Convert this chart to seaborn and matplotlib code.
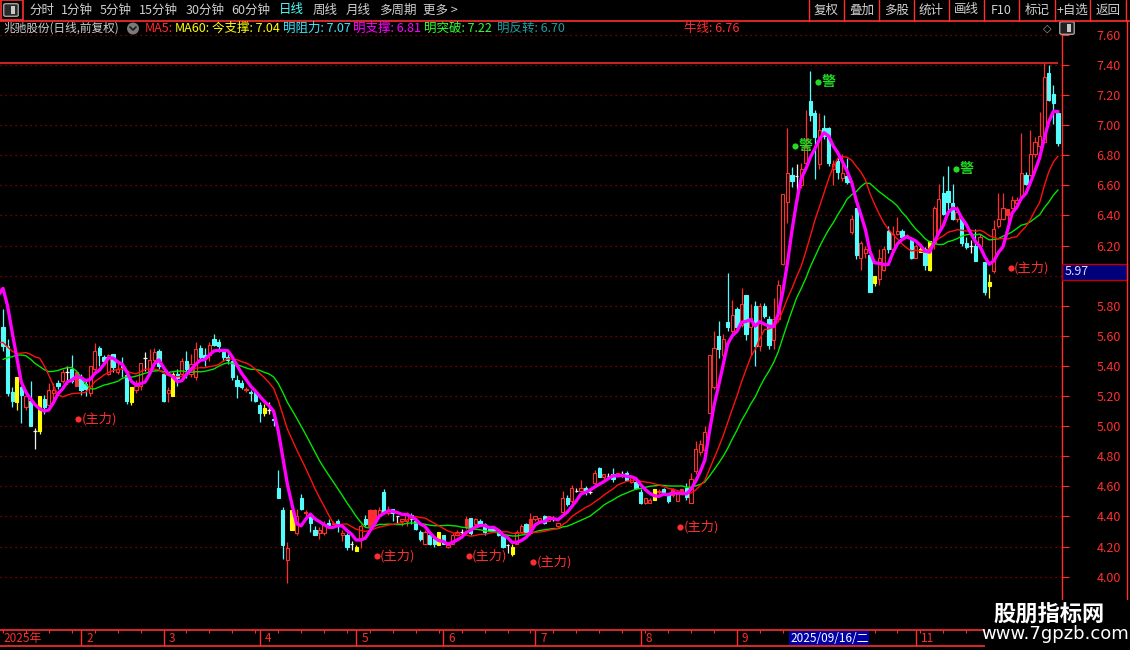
import numpy as np
import pandas as pd
import matplotlib
matplotlib.use('Agg')
from matplotlib import pyplot as plt
from matplotlib.patches import Rectangle, FancyBboxPatch, Ellipse
import matplotlib.transforms as mtransforms
import seaborn as sns

# closes of the last days of 2024, only used to seed the averages (not drawn)
warmup_close = [5.00, 5.05, 5.10, 5.20, 5.30, 5.45, 5.55, 5.60, 5.55, 5.50,
                5.20, 5.15, 5.15, 5.20, 5.30, 5.80, 6.05, 6.15, 6.05]

opens = [
    5.66, 5.53, 5.23, 5.16, 5.26, 5.13, 5.17, 4.97, 4.97, 5.18,
    5.14, 5.22, 5.29, 5.30, 5.36, 5.38, 5.27, 5.32, 5.28, 5.22,
    5.38, 5.52, 5.46, 5.35, 5.48, 5.36, 5.40, 5.34, 5.26, 5.24,
    5.27, 5.45, 5.37, 5.44, 5.50, 5.35, 5.22, 5.20, 5.35, 5.35,
    5.43, 5.35, 5.33, 5.52, 5.47, 5.47, 5.58, 5.56, 5.49, 5.46,
    5.43, 5.31, 5.29, 5.24, 5.23, 5.23, 5.14, 5.12, 5.11, 5.05,
    4.59, 4.44, 4.11, 4.31, 4.29, 4.52, 4.42, 4.41, 4.31, 4.29,
    4.29, 4.36, 4.35, 4.37, 4.28, 4.28, 4.22, 4.20, 4.25, 4.38,
    4.34, 4.36, 4.40, 4.56, 4.42, 4.45, 4.40, 4.37, 4.37, 4.41,
    4.37, 4.30, 4.22, 4.28, 4.26, 4.30, 4.28, 4.20, 4.22, 4.28,
    4.30, 4.33, 4.39, 4.35, 4.37, 4.35, 4.33, 4.32, 4.31, 4.27,
    4.21, 4.20, 4.22, 4.30, 4.35, 4.29, 4.38, 4.37, 4.40, 4.37,
    4.38, 4.34, 4.43, 4.52, 4.50, 4.57, 4.57, 4.59, 4.56, 4.62,
    4.72, 4.66, 4.67, 4.68, 4.67, 4.68, 4.69, 4.63, 4.63, 4.56,
    4.49, 4.49, 4.51, 4.56, 4.58, 4.54, 4.54, 4.50, 4.55, 4.59,
    4.49, 4.70, 4.83, 4.84, 5.09, 5.26, 5.60, 5.47, 5.69, 5.63,
    5.78, 5.67, 5.87, 5.66, 5.80, 5.53, 5.80, 5.71, 5.57, 5.71,
    6.08, 6.49, 6.67, 6.66, 6.60, 6.75, 7.16, 7.08, 6.74, 6.98,
    6.98, 6.71, 6.76, 6.65, 6.66, 6.29, 6.45, 6.12, 6.15, 6.14,
    5.95, 5.98, 6.04, 6.30, 6.18, 6.28, 6.30, 6.26, 6.24, 6.12,
    6.18, 6.18, 6.04, 6.22, 6.30, 6.55, 6.56, 6.48, 6.38, 6.38,
    6.22, 6.20, 6.20, 6.20, 6.09, 5.96, 6.03, 6.33, 6.38, 6.40,
    6.45, 6.48, 6.52, 6.67, 6.67, 6.81, 6.86, 6.89, 7.35, 7.21,
    7.08]
highs = [
    5.78, 5.58, 5.26, 5.33, 5.27, 5.24, 5.30, 4.99, 5.20, 5.21,
    5.29, 5.29, 5.31, 5.38, 5.40, 5.47, 5.36, 5.35, 5.30, 5.40,
    5.55, 5.53, 5.47, 5.48, 5.48, 5.42, 5.46, 5.35, 5.26, 5.31,
    5.42, 5.49, 5.51, 5.52, 5.51, 5.35, 5.26, 5.36, 5.38, 5.45,
    5.50, 5.48, 5.56, 5.54, 5.52, 5.56, 5.61, 5.58, 5.51, 5.48,
    5.44, 5.34, 5.31, 5.26, 5.24, 5.25, 5.16, 5.15, 5.16, 5.06,
    4.71, 4.46, 4.23, 4.44, 4.45, 4.55, 4.44, 4.42, 4.34, 4.33,
    4.37, 4.38, 4.37, 4.38, 4.31, 4.29, 4.24, 4.21, 4.35, 4.41,
    4.45, 4.45, 4.46, 4.58, 4.47, 4.45, 4.40, 4.38, 4.43, 4.42,
    4.39, 4.31, 4.31, 4.29, 4.27, 4.30, 4.28, 4.22, 4.29, 4.31,
    4.32, 4.40, 4.39, 4.39, 4.38, 4.36, 4.34, 4.33, 4.32, 4.28,
    4.22, 4.22, 4.31, 4.35, 4.36, 4.42, 4.40, 4.39, 4.41, 4.40,
    4.40, 4.36, 4.57, 4.54, 4.61, 4.59, 4.64, 4.60, 4.59, 4.71,
    4.73, 4.68, 4.69, 4.72, 4.69, 4.70, 4.70, 4.66, 4.64, 4.58,
    4.52, 4.52, 4.58, 4.58, 4.59, 4.55, 4.59, 4.57, 4.58, 4.62,
    4.69, 4.90, 4.91, 5.00, 5.47, 5.63, 5.70, 5.61, 6.02, 5.84,
    5.79, 5.92, 5.87, 5.81, 5.83, 5.82, 5.82, 5.73, 5.85, 5.97,
    6.54, 6.98, 6.72, 6.74, 6.75, 7.10, 7.36, 7.10, 7.08, 7.07,
    6.99, 6.77, 6.78, 6.81, 6.78, 6.40, 6.45, 6.23, 6.20, 6.15,
    6.00, 6.18, 6.20, 6.33, 6.33, 6.39, 6.31, 6.28, 6.25, 6.21,
    6.20, 6.19, 6.23, 6.46, 6.61, 6.66, 6.73, 6.61, 6.46, 6.39,
    6.26, 6.24, 6.31, 6.28, 6.09, 6.01, 6.37, 6.55, 6.55, 6.44,
    6.53, 6.52, 6.95, 6.69, 6.97, 6.92, 7.09, 7.41, 7.40, 7.27,
    7.09]
lows = [
    5.50, 5.20, 5.13, 5.11, 5.02, 5.11, 5.00, 4.85, 4.95, 5.08,
    5.13, 5.16, 5.25, 5.29, 5.28, 5.29, 5.27, 5.21, 5.20, 5.20,
    5.37, 5.40, 5.42, 5.34, 5.36, 5.35, 5.33, 5.15, 5.14, 5.22,
    5.24, 5.37, 5.35, 5.42, 5.38, 5.16, 5.16, 5.20, 5.27, 5.34,
    5.32, 5.33, 5.31, 5.44, 5.40, 5.43, 5.53, 5.49, 5.43, 5.41,
    5.31, 5.19, 5.25, 5.23, 5.17, 5.16, 5.03, 5.07, 5.08, 5.00,
    4.52, 4.12, 3.96, 4.31, 4.28, 4.44, 4.40, 4.30, 4.28, 4.25,
    4.28, 4.33, 4.35, 4.30, 4.24, 4.18, 4.18, 4.17, 4.19, 4.34,
    4.34, 4.36, 4.39, 4.42, 4.41, 4.37, 4.36, 4.34, 4.34, 4.35,
    4.31, 4.24, 4.22, 4.21, 4.20, 4.21, 4.22, 4.19, 4.22, 4.27,
    4.28, 4.32, 4.28, 4.34, 4.35, 4.28, 4.31, 4.30, 4.27, 4.19,
    4.16, 4.14, 4.22, 4.29, 4.29, 4.28, 4.37, 4.36, 4.35, 4.37,
    4.37, 4.33, 4.42, 4.47, 4.49, 4.56, 4.56, 4.54, 4.55, 4.61,
    4.66, 4.63, 4.66, 4.63, 4.67, 4.66, 4.64, 4.62, 4.58, 4.48,
    4.48, 4.49, 4.51, 4.55, 4.56, 4.49, 4.53, 4.50, 4.54, 4.51,
    4.49, 4.68, 4.81, 4.83, 5.09, 5.25, 5.45, 5.46, 5.63, 5.62,
    5.64, 5.66, 5.57, 5.47, 5.40, 5.50, 5.72, 5.51, 5.51, 5.69,
    6.07, 6.35, 6.59, 6.49, 6.58, 6.74, 7.03, 6.64, 6.71, 6.91,
    6.73, 6.60, 6.64, 6.63, 6.61, 6.28, 6.11, 6.04, 6.12, 5.89,
    5.93, 5.94, 6.03, 6.15, 6.17, 6.27, 6.25, 6.25, 6.11, 6.12,
    6.16, 6.04, 6.03, 6.18, 6.29, 6.40, 6.40, 6.37, 6.36, 6.20,
    6.18, 6.15, 6.10, 6.18, 5.87, 5.85, 6.02, 6.32, 6.37, 6.34,
    6.44, 6.47, 6.51, 6.60, 6.66, 6.79, 6.84, 6.88, 7.16, 7.01,
    6.86]
closes = [
    5.53, 5.22, 5.17, 5.33, 5.21, 5.20, 5.00, 4.97, 5.20, 5.13,
    5.24, 5.24, 5.27, 5.36, 5.36, 5.30, 5.36, 5.24, 5.25, 5.40,
    5.50, 5.47, 5.43, 5.47, 5.39, 5.38, 5.39, 5.17, 5.16, 5.27,
    5.42, 5.45, 5.44, 5.49, 5.40, 5.17, 5.24, 5.35, 5.32, 5.43,
    5.38, 5.41, 5.51, 5.46, 5.45, 5.54, 5.54, 5.53, 5.46, 5.44,
    5.33, 5.27, 5.26, 5.25, 5.22, 5.17, 5.09, 5.09, 5.11, 5.04,
    4.52, 4.21, 4.19, 4.44, 4.40, 4.45, 4.43, 4.36, 4.28, 4.31,
    4.35, 4.34, 4.36, 4.34, 4.29, 4.20, 4.22, 4.17, 4.34, 4.35,
    4.44, 4.44, 4.44, 4.43, 4.44, 4.42, 4.40, 4.38, 4.42, 4.38,
    4.32, 4.25, 4.30, 4.22, 4.22, 4.21, 4.22, 4.21, 4.28, 4.30,
    4.30, 4.38, 4.29, 4.38, 4.35, 4.30, 4.31, 4.30, 4.28, 4.20,
    4.21, 4.15, 4.30, 4.34, 4.30, 4.38, 4.40, 4.39, 4.36, 4.40,
    4.38, 4.36, 4.52, 4.48, 4.59, 4.57, 4.59, 4.57, 4.56, 4.69,
    4.66, 4.68, 4.67, 4.65, 4.69, 4.68, 4.64, 4.66, 4.59, 4.49,
    4.52, 4.51, 4.58, 4.57, 4.56, 4.50, 4.58, 4.56, 4.58, 4.53,
    4.65, 4.85, 4.88, 4.96, 5.47, 5.52, 5.51, 5.58, 5.66, 5.74,
    5.66, 5.81, 5.61, 5.72, 5.53, 5.80, 5.73, 5.54, 5.71, 5.94,
    6.54, 6.68, 6.63, 6.66, 6.71, 6.86, 7.07, 6.92, 6.97, 6.93,
    6.75, 6.74, 6.69, 6.68, 6.62, 6.38, 6.14, 6.22, 6.18, 5.89,
    6.00, 6.12, 6.18, 6.18, 6.28, 6.30, 6.26, 6.27, 6.12, 6.20,
    6.16, 6.07, 6.23, 6.45, 6.51, 6.41, 6.49, 6.38, 6.42, 6.22,
    6.19, 6.20, 6.10, 6.26, 5.89, 5.93, 6.31, 6.38, 6.45, 6.44,
    6.50, 6.50, 6.68, 6.61, 6.81, 6.89, 6.93, 7.32, 7.17, 7.15,
    6.88]

# bars drawn in yellow, and red bars drawn filled
yellow_bars = [3, 8, 28, 37, 57, 63, 77, 95, 111, 142, 190, 200, 202, 215]
solid_bars = [16, 80, 81, 101, 115, 146, 148, 219]

# month "10" sits under the cursor date box, so it shows no label
month_labels = ['2025年', '2', '3', '4', '5', '6', '7', '8', '9', '', '11']
month_start = [0, 18, 36, 57, 78, 97, 117, 140, 161, 182, 200]
cursor_bar = 172
cursor_label = '2025/09/16/二'
cursor_price = 5.97

# signal marks
zhuli_idx = [16.4, 81.5, 101.6, 115.6, 147.7, 219.7]
zhuli_price = [5.05, 4.14, 4.14, 4.10, 4.33, 6.05]
jing_idx = [172.7, 177.7, 207.8]
jing_price = [6.86, 7.29, 6.71]

# header line: text, colour
header_items = [('MA5:', '#FF2A2A'), ('MA60:', '#FFFF00'), ('今支撑: 7.04', '#FFFF00'),
                ('明阻力: 7.07', '#3CE6FF'), ('明支撑: 6.81', '#FF00FF'),
                ('明突破: 7.22', '#33FF33'), ('明反转: 6.70', '#1E9E9E')]
header_x = [145, 175, 212, 283, 353, 424, 497]
period_labels = ['分时', '1分钟', '5分钟', '15分钟', '30分钟', '60分钟', '日线', '周线', '月线', '多周期', '更多 >']
period_x = [29, 61, 100, 139, 186, 231, 279, 313, 346, 379, 423]
button_labels = ['复权', '叠加', '多股', '统计', '画线', 'F10', '标记', '+自选', '返回']
button_edges = [809, 844, 879, 914, 949, 984, 1019, 1055, 1090, 1126]

RED = '#FF2E2E'
CYAN = '#54FCFC'
YELLOW = '#FFFF00'
WHITE = '#F0F0F0'
MAGENTA = '#FF00FF'
GREEN = '#00E600'
GRAY = '#D0D0D0'

sns.set_theme(style='dark', rc={'axes.facecolor': 'black', 'figure.facecolor': 'black',
                                'savefig.facecolor': 'black', 'axes.grid': False})
plt.rcParams['font.family'] = ['Noto Sans CJK SC', 'DejaVu Sans']
plt.rcParams['axes.unicode_minus'] = False

W, H = 1130, 650
fig = plt.figure(figsize=(W / 100, H / 100), dpi=100)


def fxy(x, y):
    return x / W, 1 - y / H


def fline(xs, ys, color=RED, lw=1.0):
    fig.add_artist(plt.Line2D([x / W for x in xs], [1 - y / H for y in ys],
                              transform=fig.transFigure, color=color, lw=lw))


ax = fig.add_axes([0, 22 / H, 1062 / W, 608 / H])
ax.set_facecolor('black')

n = len(closes)
idx = np.arange(n)
o = np.array(opens)
h = np.array(highs)
l = np.array(lows)
c = np.array(closes)

kind = np.where(c > o, 'up', np.where(c < o, 'down', 'flat')).astype(object)
kind[yellow_bars] = 'yellow'
kind[solid_bars] = 'solid'
edge = {'up': RED, 'solid': RED, 'down': CYAN, 'flat': WHITE, 'yellow': YELLOW}
face = {'up': 'black', 'solid': RED, 'down': CYAN, 'yellow': YELLOW}

ax.vlines(idx, l, h, colors=[edge[k] for k in kind], lw=0.9, zorder=2)
for k in ['up', 'solid', 'down', 'yellow']:
    m = (kind == k) & (o != c)
    ax.bar(idx[m], np.abs(c - o)[m], bottom=np.minimum(o, c)[m], width=0.7,
           color=face[k], edgecolor=edge[k], linewidth=0.8, zorder=3)
flat = kind == 'flat'
ax.hlines(c[flat], idx[flat] - 0.38, idx[flat] + 0.38, colors=WHITE, lw=0.9, zorder=3)

# moving averages
all_close = pd.Series(warmup_close + closes)
ma = pd.DataFrame({
    'i': np.arange(-len(warmup_close), n),
    'fast': all_close.rolling(5).mean(),
    'mid': all_close.rolling(13).mean(),
    'slow': all_close.rolling(20).mean(),
})
sns.lineplot(data=ma, x='i', y='slow', color=GREEN, lw=1.0, ax=ax, estimator=None, zorder=4)
sns.lineplot(data=ma, x='i', y='mid', color='#FF1010', lw=1.0, ax=ax, estimator=None, zorder=4)
sns.lineplot(data=ma, x='i', y='fast', color=MAGENTA, lw=2.4, ax=ax, estimator=None, zorder=5)

x_left, x_right = -0.65, 230.87
ax.set_xlim(x_left, x_right)
ax.set_ylim(3.659, 7.699)
ax.hlines(max(highs), x_left, n - 1, color=RED, lw=1.1, zorder=6)

# signals
ax.scatter(zhuli_idx, zhuli_price, s=20, color=RED, zorder=7, linewidths=0)
for xi, yi in zip(zhuli_idx, zhuli_price):
    ax.text(xi + 0.7, yi, '(主力)', color=RED, fontsize=9.5, va='center', ha='left', zorder=7)
ax.scatter(jing_idx, jing_price, s=20, color='#22DD22', zorder=7, linewidths=0)
for xi, yi in zip(jing_idx, jing_price):
    ax.text(xi + 0.7, yi, '警', color='#22DD22', fontsize=10, fontweight='bold',
            va='center', ha='left', zorder=7)

# price axis on the right
price_ticks = np.round(np.arange(4.0, 7.61, 0.2), 2)
ax.set_yticks(price_ticks)
ax.set_yticklabels([f'{p:.2f}' for p in price_ticks])
ax.yaxis.tick_right()
ax.tick_params(axis='y', colors=RED, labelcolor=RED, length=5, width=0.8,
               direction='out', pad=20, labelsize=9)
ax.tick_params(axis='x', bottom=False, labelbottom=False)
ax.set_xlabel('')
ax.set_ylabel('')
ax.grid(axis='y', color='#A00000', linestyle=(0, (1, 3)), linewidth=0.9)
ax.set_axisbelow(True)
for s in ['left', 'top', 'bottom']:
    ax.spines[s].set_visible(False)
ax.spines['right'].set_color(RED)
ax.spines['right'].set_linewidth(1.0)

blend = mtransforms.blended_transform_factory(ax.transAxes, ax.transData)
ax.add_patch(Rectangle((1.0, cursor_price), 65 / 1062, 0.11, transform=blend, clip_on=False,
                       facecolor='#00007A', edgecolor='#C00000', lw=1.0, zorder=8))
ax.text(1.0 + 3 / 1062, cursor_price + 0.055, f'{cursor_price:.2f}', transform=blend,
        color='#D8D8FF', fontsize=9, va='center', ha='left', clip_on=False, zorder=9)

# date bar
axd = fig.add_axes([0, 4 / H, 1062 / W, 16 / H], sharex=ax)
axd.set_facecolor('black')
axd.set_ylim(0, 1)
axd.set_yticks([])
axd.tick_params(axis='x', bottom=False, labelbottom=False)
for s in ['left', 'right']:
    axd.spines[s].set_visible(False)
for s in ['top', 'bottom']:
    axd.spines[s].set_color(RED)
    axd.spines[s].set_linewidth(1.2)
for ms, lab in zip(month_start, month_labels):
    if ms > 0:
        axd.vlines(ms - 1.0, 0, 1, color=RED, lw=1.0)
    if lab:
        axd.text(ms + 0.1, 0.45, lab, color=RED, fontsize=8.5, va='center', ha='left')
axd.vlines(np.arange(0, n, 5), 0.8, 1.0, color=RED, lw=0.8)
axd.add_patch(Rectangle((cursor_bar - 0.6, 0.05), 80 / 4.587, 0.9, facecolor='#0000A8',
                        edgecolor='none', zorder=5))
axd.text(cursor_bar - 0.4, 0.45, cursor_label, color='white', fontsize=8.5,
         va='center', ha='left', zorder=6)

# outer right border
fline([1127, 1127], [20, 600])

# top toolbar
fline([0, W], [20.5, 20.5], lw=1.2)
fig.add_artist(Rectangle(fxy(0.5, 20), 22 / W, 19.5 / H, transform=fig.transFigure,
                         facecolor='none', edgecolor=RED, lw=1.2))
fig.add_artist(FancyBboxPatch(fxy(6, 15), 10 / W, 10 / H, boxstyle='round,pad=0.002',
                              transform=fig.transFigure, facecolor='#2A2A2A',
                              edgecolor='#A0A0A0', lw=1.0))
fig.add_artist(Rectangle(fxy(11, 14), 4 / W, 8 / H, transform=fig.transFigure,
                         facecolor='#C8C8C8', edgecolor='none'))
for lab, xx in zip(period_labels, period_x):
    fig.text(*fxy(xx, 10), lab, color=CYAN if lab == '日线' else GRAY,
             fontsize=9, va='center', ha='left')
for xe in button_edges:
    fline([xe, xe], [0, 20.5])
for lab, x0, x1 in zip(button_labels, button_edges[:-1], button_edges[1:]):
    fig.text(*fxy((x0 + x1) / 2, 10), lab, color=GRAY, fontsize=9, va='center', ha='center')

# header line
fig.text(*fxy(3, 28.5), '兆驰股份(日线,前复权)', color=GRAY, fontsize=8.4, va='center', ha='left')
fig.add_artist(Ellipse(fxy(133, 28.5), 12 / W, 12 / H, transform=fig.transFigure,
                       facecolor='#7A7A7A', edgecolor='none'))
fline([130, 133, 136], [27, 30, 27], color='#1A1A1A', lw=1.2)
for (lab, col), xx in zip(header_items, header_x):
    fig.text(*fxy(xx, 28.5), lab, color=col, fontsize=9, va='center', ha='left')
fig.text(*fxy(684, 28.5), '牛线: 6.76', color=RED, fontsize=9, va='center', ha='left')
fig.text(*fxy(1047, 28.5), '◇', color='#A0A0A0', fontsize=8, va='center', ha='center',
         family='DejaVu Sans')
fig.add_artist(FancyBboxPatch(fxy(1062, 33), 10 / W, 10 / H, boxstyle='round,pad=0.002',
                              transform=fig.transFigure, facecolor='#202020',
                              edgecolor='#A0A0A0', lw=1.0))
fig.add_artist(Rectangle(fxy(1067, 32), 4 / W, 8 / H, transform=fig.transFigure,
                         facecolor='#C8C8C8', edgecolor='none'))

# watermark corner
fig.add_artist(Rectangle(fxy(985, 650), 145 / W, 50 / H, transform=fig.transFigure,
                         facecolor='black', edgecolor='none', zorder=10))
fig.text(*fxy(1049, 614), '股朋指标网', color='white', fontsize=16, fontweight='bold',
         va='center', ha='center', zorder=11)
fig.text(*fxy(1055, 634), 'www.7gpzb.com', color='white', fontsize=13,
         va='center', ha='center', family='DejaVu Sans', zorder=11)

fig.savefig('out.png', dpi=100, facecolor='black')
